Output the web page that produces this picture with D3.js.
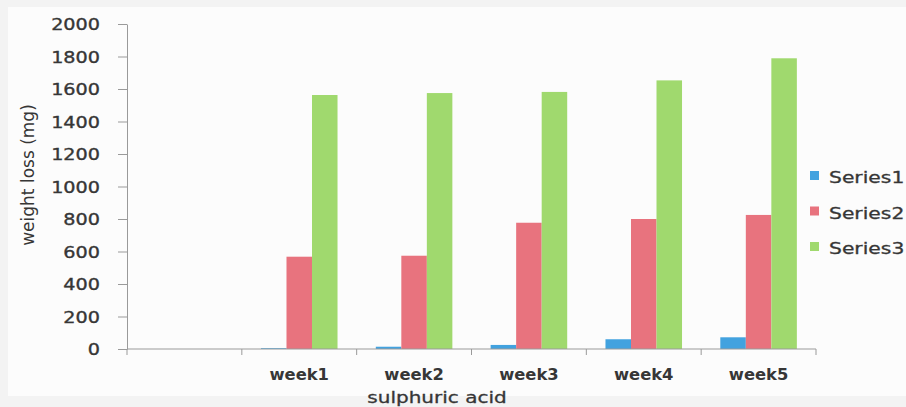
<!DOCTYPE html>
<html>
<head>
<meta charset="utf-8">
<script src="https://cdn.jsdelivr.net/npm/d3@7"></script>
<style>
  html, body { margin: 0; padding: 0; background: #f3f3f3; }
  svg { display: block; }
  text { font-family: "DejaVu Sans", sans-serif; fill: #363636; }
</style>
</head>
<body>
<svg id="chart" width="906" height="407"></svg>
<script>
// Weekly weight loss in sulphuric acid (mg)
const categories = ["", "week1", "week2", "week3", "week4", "week5"];
const seriesNames = ["Series1", "Series2", "Series3"];
const series1 = [null, 5, 14, 25, 60, 72];
const series2 = [null, 568, 574, 777, 800, 825];
const series3 = [null, 1563, 1575, 1582, 1653, 1789];
const yTicks = [0, 200, 400, 600, 800, 1000, 1200, 1400, 1600, 1800, 2000];
const colors = ["#42a2df", "#e8737e", "#a0d96e"];

const seriesValues = [series1, series2, series3];
const rows = categories.map((c, i) => ({
  cat: c,
  values: seriesNames.map((s, k) => ({ name: s, value: seriesValues[k][i] }))
}));

const svg = d3.select("#chart");
const plotLeft = 127, plotRight = 816, plotTop = 24, plotBottom = 349;

// Paper panel
svg.append("rect").attr("x", 8).attr("y", 7).attr("width", 898).attr("height", 389)
  .attr("fill", "#fcfcfc");

const x0 = d3.scaleBand().domain(categories).range([plotLeft, plotRight]).paddingInner(0).paddingOuter(0);
const x1 = d3.scaleBand().domain(seriesNames).range([0, x0.bandwidth()]).paddingInner(0).paddingOuter(0.75);
const y = d3.scaleLinear().domain([0, 2000]).range([plotBottom, plotTop]);

// Horizontally widened text
function wide(sel, sx) {
  sel.each(function () {
    const t = d3.select(this);
    const tx = +t.attr("data-x") || 0, ty = +t.attr("data-y") || 0;
    t.attr("x", 0).attr("y", 0).attr("transform", `translate(${tx},${ty}) scale(${sx},1)`);
  });
}

// Bars
const groups = svg.append("g").selectAll("g").data(rows).join("g")
  .attr("transform", d => `translate(${x0(d.cat)},0)`);
groups.selectAll("rect").data(d => d.values.filter(v => v.value != null)).join("rect")
  .attr("x", d => x1(d.name))
  .attr("width", x1.bandwidth())
  .attr("y", d => y(d.value))
  .attr("height", d => y(0) - y(d.value))
  .attr("fill", d => colors[seriesNames.indexOf(d.name)]);

// Y axis
const yAxis = svg.append("g").attr("transform", `translate(${plotLeft},0)`)
  .call(d3.axisLeft(y).tickValues(yTicks).tickFormat(d3.format("d"))
    .tickSize(9).tickPadding(18).tickSizeOuter(0));
yAxis.select(".domain").attr("stroke", "#9a9a9a");
yAxis.selectAll(".tick line").attr("stroke", "#9a9a9a");
yAxis.selectAll(".tick text")
  .attr("font-family", "DejaVu Sans, sans-serif")
  .attr("font-size", 15.5)
  .attr("fill", "#363636")
  .attr("stroke", "#363636").attr("stroke-width", 0.35)
  .attr("data-x", -27).attr("data-y", 0).attr("dy", "0.36em");
wide(yAxis.selectAll(".tick text"), 1.24);

// X axis line with boundary ticks
const xAxis = svg.append("g");
xAxis.append("line").attr("x1", plotLeft).attr("x2", plotRight).attr("y1", plotBottom).attr("y2", plotBottom)
  .attr("stroke", "#9a9a9a");
const bounds = categories.map(c => x0(c)).concat([x0(categories[categories.length - 1]) + x0.bandwidth()]);
xAxis.selectAll("line.tk").data(bounds).join("line").attr("class", "tk")
  .attr("x1", d => d).attr("x2", d => d).attr("y1", plotBottom).attr("y2", plotBottom + 6)
  .attr("stroke", "#9a9a9a");
xAxis.selectAll("text").data(categories.filter(c => c)).join("text")
  .attr("data-x", d => x0(d) + x0.bandwidth() / 2).attr("data-y", 380)
  .attr("text-anchor", "middle").attr("font-size", 15).attr("font-weight", "bold")
  .attr("fill", "#363636")
  .text(d => d);
wide(xAxis.selectAll("text"), 1.09);

// Axis titles
svg.append("text").attr("data-x", 437).attr("data-y", 403)
  .attr("text-anchor", "middle").attr("font-size", 16)
  .attr("stroke", "#363636").attr("stroke-width", 0.3)
  .text("sulphuric acid")
  .call(s => wide(s, 1.25));

svg.append("text")
  .attr("transform", "translate(34,175) rotate(-90)")
  .attr("text-anchor", "middle").attr("font-size", 17)
  .text("weight loss (mg)");

// Legend
const legend = svg.append("g").selectAll("g").data(seriesNames).join("g")
  .attr("transform", (d, i) => `translate(810,${171 + i * 35.5})`);
legend.append("rect").attr("width", 9).attr("height", 9)
  .attr("fill", (d, i) => colors[i]);
legend.append("text")
  .attr("x", 0).attr("y", 0).attr("transform", "translate(19,12) scale(1.27,1)")
  .attr("stroke", "#363636").attr("stroke-width", 0.3)
  .attr("font-size", 16).text(d => d);
</script>
</body>
</html>
